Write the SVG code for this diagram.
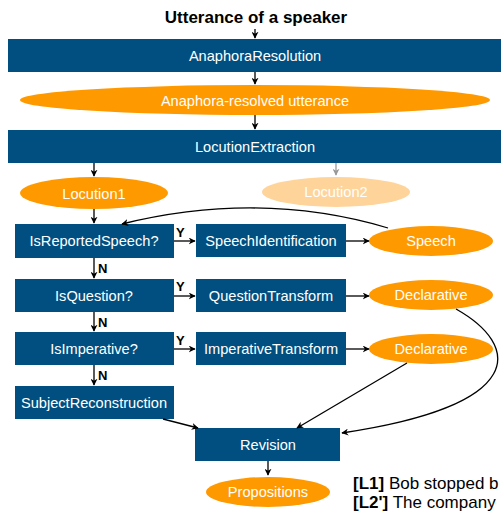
<svg xmlns="http://www.w3.org/2000/svg" width="501" height="513" viewBox="0 0 501 513">
<style>
.box{fill:#004f80}
.ell{fill:#ff9900}
.t{font-family:"Liberation Sans",Arial,sans-serif;font-size:14.6px;fill:#fff;text-anchor:middle;dominant-baseline:central}
.lbl{font-family:"Liberation Sans",Arial,sans-serif;font-size:13px;font-weight:bold;fill:#000}
.c{fill:none;stroke:#000;stroke-width:1.3;marker-end:url(#ah)}
.note{font-family:"Liberation Sans",Arial,sans-serif;font-size:17px;fill:#000}
</style>
<defs>
<marker id="ah" viewBox="0 0 10 10" refX="9" refY="5" markerWidth="7" markerHeight="7" markerUnits="userSpaceOnUse" orient="auto">
<path d="M0,0 L10,5 L0,10 L3,5 Z" fill="#000"/>
</marker>
<marker id="ahg" viewBox="0 0 10 10" refX="9" refY="5" markerWidth="7" markerHeight="7" markerUnits="userSpaceOnUse" orient="auto">
<path d="M0,0 L10,5 L0,10 L3,5 Z" fill="#999"/>
</marker>
</defs>
<text x="256" y="23" font-family="Liberation Sans,Arial,sans-serif" font-size="17" font-weight="bold" text-anchor="middle">Utterance of a speaker</text>
<g id="anaphoraResolution"><rect class="box" x="8" y="39" width="493" height="33"/><text class="t" x="255" y="56">AnaphoraResolution</text></g>
<g id="anaphoraResolved"><ellipse class="ell" cx="255" cy="100" rx="235" ry="15"/><text class="t" x="255" y="101">Anaphora-resolved utterance</text></g>
<g id="locutionExtraction"><rect class="box" x="8" y="130" width="493" height="33"/><text class="t" x="255" y="147">LocutionExtraction</text></g>
<g id="locution1"><ellipse class="ell" cx="94" cy="193" rx="74" ry="16"/><text class="t" x="94" y="194">Locution1</text></g>
<g id="locution2"><ellipse cx="336" cy="192" rx="74" ry="15" fill="#fed49b"/><text class="t" x="336" y="192">Locution2</text></g>
<g id="isReportedSpeech"><rect class="box" x="15" y="224" width="159" height="34"/><text class="t" x="94" y="241">IsReportedSpeech?</text></g>
<g id="speechIdentification"><rect class="box" x="196" y="224" width="150" height="33"/><text class="t" x="271" y="241">SpeechIdentification</text></g>
<g id="speech"><ellipse class="ell" cx="431" cy="241" rx="62" ry="15"/><text class="t" x="431" y="241">Speech</text></g>
<g id="isQuestion"><rect class="box" x="15" y="279" width="159" height="33"/><text class="t" x="94" y="296">IsQuestion?</text></g>
<g id="questionTransform"><rect class="box" x="196" y="279" width="150" height="33"/><text class="t" x="271" y="296">QuestionTransform</text></g>
<g id="declarative1"><ellipse class="ell" cx="431" cy="295" rx="62" ry="15"/><text class="t" x="431" y="295">Declarative</text></g>
<g id="isImperative"><rect class="box" x="15" y="332" width="159" height="33"/><text class="t" x="94" y="349">IsImperative?</text></g>
<g id="imperativeTransform"><rect class="box" x="196" y="332" width="150" height="33"/><text class="t" x="271" y="349">ImperativeTransform</text></g>
<g id="declarative2"><ellipse class="ell" cx="431" cy="349" rx="62" ry="15"/><text class="t" x="431" y="349">Declarative</text></g>
<g id="subjectReconstruction"><rect class="box" x="15" y="386" width="159" height="33"/><text class="t" x="94" y="403">SubjectReconstruction</text></g>
<g id="revision"><rect class="box" x="195" y="428" width="145" height="33"/><text class="t" x="268" y="445">Revision</text></g>
<g id="propositions"><ellipse class="ell" cx="268" cy="492" rx="62" ry="15"/><text class="t" x="268" y="492">Propositions</text></g>
<g id="connectors">
<path class="c" d="M255,29 V38"/>
<path class="c" d="M255,72 V84"/>
<path class="c" d="M255,115 V129"/>
<path class="c" d="M94,163 V176"/>
<path d="M336,163 V175" fill="none" stroke="#999" stroke-width="1.3" marker-end="url(#ahg)"/>
<path class="c" d="M94,209 V223"/>
<path class="c" d="M174,241 H195"/>
<path class="c" d="M346,241 H369"/>
<path class="c" d="M388,228 Q260,190 122,224"/>
<path class="c" d="M94,258 V278"/>
<path class="c" d="M174,296 H195"/>
<path class="c" d="M346,296 H369"/>
<path class="c" d="M94,312 V331"/>
<path class="c" d="M174,349 H195"/>
<path class="c" d="M346,349 H369"/>
<path class="c" d="M94,365 V385"/>
<path class="c" d="M163,419 L198,428"/>
<path class="c" d="M407,363 L297,428"/>
<path class="c" d="M456,309 C520,345 530,405 342,433"/>
<path class="c" d="M268,461 V475"/>
<text class="lbl" x="176" y="237">Y</text>
<text class="lbl" x="176" y="291">Y</text>
<text class="lbl" x="176" y="345">Y</text>
<text class="lbl" x="98" y="273">N</text>
<text class="lbl" x="98" y="327">N</text>
<text class="lbl" x="98" y="380">N</text>
</g>
<text class="note" x="353" y="489"><tspan font-weight="bold">[L1]</tspan> Bob stopped b</text>
<text class="note" x="353" y="508"><tspan font-weight="bold">[L2']</tspan> The company</text>
</svg>
